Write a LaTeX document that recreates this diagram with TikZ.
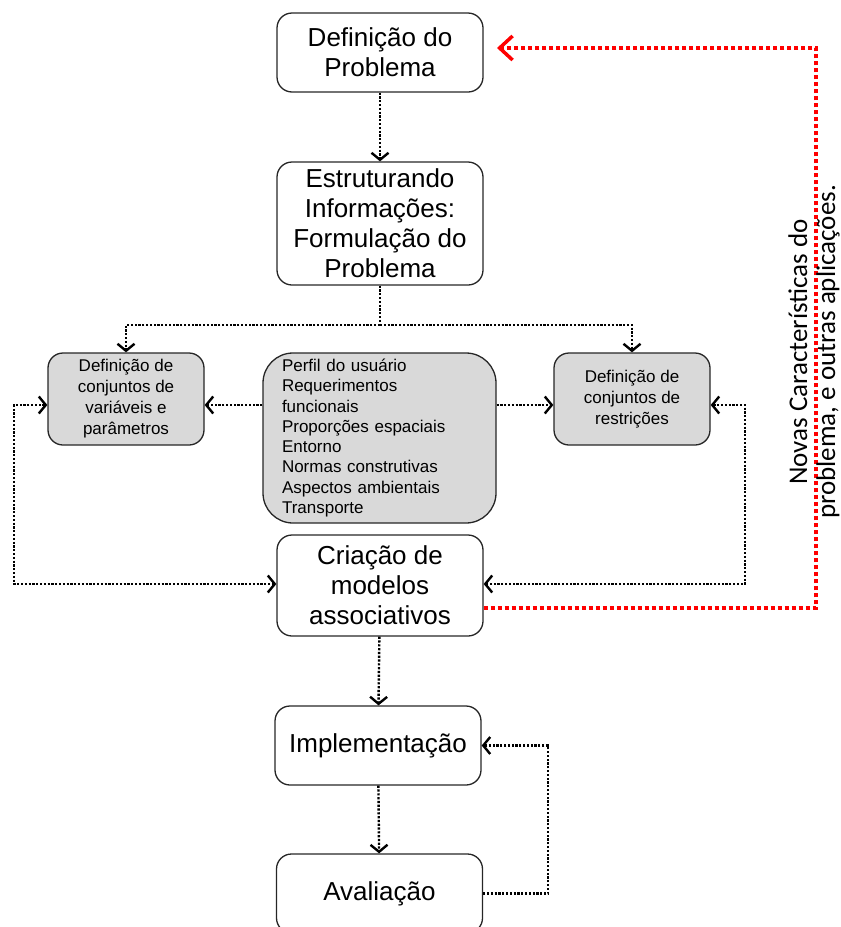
\documentclass[tikz,border=0pt]{standalone}
\usepackage{fontspec}
\setmainfont{Liberation Sans}
\newfontfamily\calibfont{Carlito}
\usetikzlibrary{arrows.meta}
\begin{document}
\begin{tikzpicture}[x=1pt,y=-1pt,
  mainbox/.style={draw=black!85, line width=1.3pt, rounded corners=15pt, minimum width=206pt, align=center, inner sep=0pt, font=\fontsize{26}{30}\selectfont},
  graybox/.style={draw=black!85, fill=gray!30, line width=1.3pt, rounded corners=15pt, align=center, inner sep=0pt, font=\fontsize{17}{21}\selectfont},
  conn/.style={line width=2.4pt, dash pattern=on 2.2pt off 1.6pt, -{Straight Barb[length=7pt,width=17pt]}},
  bconn/.style={line width=2.4pt, dash pattern=on 2.2pt off 1.6pt, {Straight Barb[length=7pt,width=17pt]}-{Straight Barb[length=7pt,width=17pt]}},
  plain/.style={line width=2.4pt, dash pattern=on 2.2pt off 1.6pt},
  redconn/.style={draw=red, line width=3.5pt, dash pattern=on 4pt off 3pt, -{Straight Barb[length=13pt,width=24pt]}}
]
\useasboundingbox (0,0) rectangle (841,927);

\node[mainbox, minimum height=79pt] (def) at (380,52.5) {Definição do\\Problema};
\node[mainbox, minimum height=123pt] (est) at (380,223.5) {Estruturando\\Informações:\\Formulação do\\Problema};
\node[graybox, minimum width=156pt, minimum height=92pt] (lb) at (126,399) {Definição de\\conjuntos de\\variáveis e\\parâmetros};
\node[graybox, rounded corners=30pt, minimum height=170pt, text width=195pt, inner xsep=19pt, align=left, font=\fontsize{17}{20.3}\selectfont] (mid) at (379.5,438) {Perfil do usuário\\Requerimentos\\funcionais\\Proporções espaciais\\Entorno\\Normas construtivas\\Aspectos ambientais\\Transporte};
\node[graybox, minimum width=156pt, minimum height=92pt] (rb) at (632,399) {Definição de\\conjuntos de\\restrições};
\node[mainbox, minimum height=101pt] (cri) at (380,585.5) {Criação de\\modelos\\associativos};
\node[mainbox, minimum height=79pt] (imp) at (378,745.5) {Implementação};
\node[mainbox, minimum height=79pt] (ava) at (379.5,893.5) {Avaliação};

\coordinate (fork) at (380,325);
\coordinate (yl) at (0,405);
\coordinate (yc) at (0,584);
\coordinate (yr) at (0,608);
\coordinate (xl) at (14,0);
\coordinate (xr) at (745,0);
\coordinate (xred) at (816,0);
\coordinate (redend) at (497,48);
\coordinate (xi) at (548,0);

\draw[conn] (def) -- (est);
\draw[plain] (est.south) -- (fork);
\draw[conn] (fork) -| (lb.north);
\draw[conn] (fork) -| (rb.north);
\draw[conn] (mid.west |- yl) -- (lb.east |- yl);
\draw[conn] (mid.east |- yl) -- (rb.west |- yl);
\draw[bconn] (lb.west |- yl) -- (xl |- yl) -- (xl |- yc) -- (cri.west |- yc);
\draw[bconn] (rb.east |- yl) -- (xr |- yl) -- (xr |- yc) -- (cri.east |- yc);
\draw[conn] (cri) -- (imp);
\draw[conn] (imp) -- (ava);
\draw[conn] (ava.east) -- (xi |- ava.east) -- (xi |- imp.east) -- (imp.east);
\draw[redconn] (cri.east |- yr) -- (xred |- yr) -- (xred |- redend) -- (redend);

\node[rotate=90, align=center, inner sep=0pt, font=\calibfont\fontsize{27}{28}\selectfont] (note) at (814,352) {Novas Características do\\problema, e outras aplicações.};
\end{tikzpicture}
\end{document}
